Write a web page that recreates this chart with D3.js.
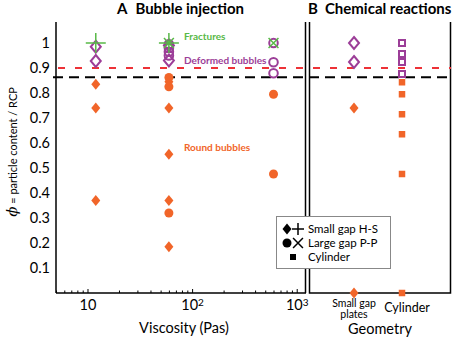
<!DOCTYPE html>
<html>
<head>
<meta charset="utf-8">
<script src="https://cdn.jsdelivr.net/npm/d3@7"></script>
<style>
  body { margin: 0; background: #fff; }
  svg { display: block; font-family: Lato, "Open Sans", sans-serif; }
</style>
</head>
<body>
<div id="chart"></div>
<script>
// --- data: [viscosity (Pas), phi] ---
const smallGapFracture = [[12, 1.0], [60, 1.0]];
const largeGapFracture = [[60, 1.0], [600, 1.0]];
const smallGapDeformed = [[12, 0.985], [12, 0.928], [60, 0.99], [60, 0.93]];
const largeGapDeformed = [[60, 0.995], [60, 0.98], [60, 0.965], [60, 0.95], [600, 1.0], [600, 0.923], [600, 0.879]];
const smallGapRound = [[12, 0.835], [12, 0.74], [12, 0.37], [60, 0.845], [60, 0.74], [60, 0.555], [60, 0.37], [60, 0.185]];
const largeGapRound = [[60, 0.862], [60, 0.825], [60, 0.32], [600, 0.795], [600, 0.476]];

// chemical reactions: [geometry, phi]
const geometries = ["Small gap plates", "Cylinder"];
const platesDeformed = [["Small gap plates", 1.0], ["Small gap plates", 0.924]];
const platesRound = [["Small gap plates", 0.74], ["Small gap plates", 0.0]];
const cylinderDeformed = [["Cylinder", 1.0], ["Cylinder", 0.956], ["Cylinder", 0.924], ["Cylinder", 0.876]];
const cylinderRound = [["Cylinder", 0.843], ["Cylinder", 0.795], ["Cylinder", 0.715], ["Cylinder", 0.635], ["Cylinder", 0.476], ["Cylinder", 0.0]];

const yTicks = [0.1, 0.2, 0.3, 0.4, 0.5, 0.6, 0.7, 0.8, 0.9, 1];
const xTicks = [10, 100, 1000];
const rcpLine = 0.9;
const jammingLine = 0.863;

const colors = { round: "#f16529", deformed: "#9c3e98", fracture: "#58b947", red: "#ed3237" };

const width = 454, height = 338;
const svg = d3.select("#chart").append("svg").attr("width", width).attr("height", height);

const x = d3.scaleLog().domain([5, 1200]).range([56, 305]);
const xg = d3.scalePoint().domain(geometries).range([306, 450]).padding(1);
const y = d3.scaleLinear().domain([0, 1.084]).range([293, 22]);

const diamond = (hw, hh) => `M0,${-hh}L${hw},0L0,${hh}L${-hw},0Z`;

// frames
const frame = svg.append("g").attr("stroke", "#000").attr("stroke-width", 1.5).attr("fill", "none");
frame.append("line").attr("x1", 305.5).attr("x2", 305.5).attr("y1", 22).attr("y2", 293);
frame.append("path").attr("d", `M309.5,22V293H450.5V22`);

// y axis
svg.append("g")
    .attr("transform", "translate(56,0)")
    .call(d3.axisLeft(y).tickValues(yTicks).tickSize(0).tickPadding(6)
        .tickFormat(d => d === 1 ? "1" : d3.format(".1f")(d)))
    .call(g => g.select(".domain").attr("stroke-width", 1.5).attr("d", "M0,22V293"))
    .call(g => g.selectAll("text").attr("font-size", 14.5).attr("font-family", "Lato"));

// x axis (log) with inward minor ticks
const minor = [];
for (let e = 0; e < 4; e++) for (let m = 2; m <= 9; m++) {
    const v = m * Math.pow(10, e);
    if (v >= 5 && v <= 1200) minor.push(v);
}
svg.append("g")
    .attr("transform", "translate(0,293)")
    .call(d3.axisBottom(x).tickValues(minor).tickSize(-2.5).tickFormat(""))
    .call(g => g.select(".domain").remove());
const xAxis = svg.append("g")
    .attr("transform", "translate(0,293)")
    .call(d3.axisBottom(x).tickValues(xTicks).tickSize(-4).tickPadding(7).tickFormat(() => ""));
xAxis.select(".domain").attr("stroke-width", 1.5).attr("d", "M56,0H306");
xAxis.selectAll(".tick text")
    .attr("font-size", 14.5).attr("font-family", "Lato")
    .each(function (d) {
        const t = d3.select(this);
        t.append("tspan").text("10");
        const p = Math.round(Math.log10(d));
        if (p > 1) t.append("tspan").attr("dy", "-0.45em").attr("font-size", 10).text(p);
    });

// geometry labels
const gl = svg.append("g").attr("text-anchor", "middle").attr("font-family", "Lato");
gl.append("text").attr("x", xg("Small gap plates")).attr("y", 307).attr("font-size", 10.5).text("Small gap");
gl.append("text").attr("x", xg("Small gap plates")).attr("y", 317.5).attr("font-size", 10.5).text("plates");
gl.append("text").attr("x", xg("Cylinder") + 5).attr("y", 312).attr("font-size", 12.5).text("Cylinder");

// axis titles
svg.append("text").attr("x", 184).attr("y", 333).attr("text-anchor", "middle")
    .attr("font-size", 14.5).text("Viscosity (Pas)");
svg.append("text").attr("x", 380).attr("y", 334).attr("text-anchor", "middle")
    .attr("font-size", 14.5).text("Geometry");
const yl = svg.append("text").attr("transform", "translate(17,152) rotate(-90)").attr("text-anchor", "middle");
yl.append("tspan").attr("font-style", "italic").attr("font-size", 15).attr("font-family", "DejaVu Serif").text("\u03d5");
yl.append("tspan").attr("font-size", 11).text(" = particle content / RCP");

// panel titles
svg.append("text").attr("x", 117).attr("y", 14).attr("font-size", 15).attr("font-weight", "bold")
    .text("A").append("tspan").attr("dx", 8).text("Bubble injection");
svg.append("text").attr("x", 308).attr("y", 14).attr("font-size", 15).attr("font-weight", "bold")
    .text("B").append("tspan").attr("dx", 7).text("Chemical reactions");

// reference lines
svg.append("line").attr("x1", 58).attr("x2", 451).attr("y1", y(rcpLine)).attr("y2", y(rcpLine))
    .attr("stroke", colors.red).attr("stroke-width", 2).attr("stroke-dasharray", "7,10");
svg.append("line").attr("x1", 53).attr("x2", 451).attr("y1", y(jammingLine)).attr("y2", y(jammingLine))
    .attr("stroke", "#000").attr("stroke-width", 2).attr("stroke-dasharray", "10,6");

// markers
const marks = svg.append("g");
function drawDiamonds(data, sx, filled, color) {
    marks.selectAll(null).data(data).join("path")
        .attr("transform", d => `translate(${sx(d[0])},${y(d[1])})`)
        .attr("d", filled ? diamond(4.5, 5.5) : diamond(5, 6))
        .attr("fill", filled ? color : "none")
        .attr("stroke", filled ? "none" : color).attr("stroke-width", 2);
}
function drawCircles(data, sx, filled, color) {
    marks.selectAll(null).data(data).join("circle")
        .attr("cx", d => sx(d[0])).attr("cy", d => y(d[1]))
        .attr("r", filled ? 4.5 : 4.3)
        .attr("fill", filled ? color : "none")
        .attr("stroke", filled ? "none" : color).attr("stroke-width", 2);
}
function drawSquares(data, sx, filled, color) {
    const s = filled ? 6.5 : 6;
    marks.selectAll(null).data(data).join("rect")
        .attr("x", d => sx(d[0]) - s / 2).attr("y", d => y(d[1]) - s / 2)
        .attr("width", s).attr("height", s)
        .attr("fill", filled ? color : "none")
        .attr("stroke", filled ? "none" : color).attr("stroke-width", 2);
}
function drawCross(data, sx, rotated, color) {
    const a = rotated ? 7 : 10;
    marks.selectAll(null).data(data).join("path")
        .attr("transform", d => `translate(${sx(d[0])},${y(d[1])})${rotated ? " rotate(45)" : ""}`)
        .attr("d", `M${-a},0H${a}M0,${-a}V${a}`)
        .attr("stroke", color).attr("stroke-width", 1.5).attr("fill", "none");
}

drawDiamonds(smallGapRound, x, true, colors.round);
drawCircles(largeGapRound, x, true, colors.round);
drawDiamonds(platesRound, xg, true, colors.round);
drawSquares(cylinderRound, xg, true, colors.round);

drawCircles(largeGapDeformed, x, false, colors.deformed);
drawDiamonds(smallGapDeformed, x, false, colors.deformed);
drawDiamonds(platesDeformed, xg, false, colors.deformed);
drawSquares(cylinderDeformed, xg, false, colors.deformed);

drawCross(smallGapFracture, x, false, colors.fracture);
drawCross(largeGapFracture, x, true, colors.fracture);

// annotations
const ann = svg.append("g").attr("font-size", 10).attr("font-weight", "bold");
ann.append("text").attr("x", 184).attr("y", 39.5).attr("fill", colors.fracture).text("Fractures");
ann.append("text").attr("x", 184).attr("y", 64).attr("fill", colors.deformed).text("Deformed bubbles");
ann.append("text").attr("x", 184).attr("y", 151).attr("fill", colors.round).text("Round bubbles");

// legend
const lg = svg.append("g");
lg.append("rect").attr("x", 276.5).attr("y", 216.5).attr("width", 114).attr("height", 52)
    .attr("fill", "#fff").attr("stroke", "#888").attr("stroke-width", 1);
lg.append("path").attr("transform", "translate(287,229)").attr("d", diamond(4.5, 5.5)).attr("fill", "#000");
lg.append("path").attr("transform", "translate(298,229)").attr("d", "M-6,0H6M0,-6V6")
    .attr("stroke", "#000").attr("stroke-width", 1.5);
lg.append("circle").attr("cx", 287).attr("cy", 243).attr("r", 4.5).attr("fill", "#000");
lg.append("path").attr("transform", "translate(298,243) rotate(45)").attr("d", "M-7,0H7M0,-7V7")
    .attr("stroke", "#000").attr("stroke-width", 1.5);
lg.append("rect").attr("x", 290).attr("y", 254).attr("width", 6).attr("height", 6).attr("fill", "#000");
const legendLabels = ["Small gap H-S", "Large gap P-P", "Cylinder"];
lg.selectAll("text.lab").data(legendLabels).join("text")
    .attr("x", 308).attr("y", (d, i) => 229 + i * 14.2)
    .attr("dy", "0.35em").attr("font-size", 11.5).text(d => d);
</script>
</body>
</html>
